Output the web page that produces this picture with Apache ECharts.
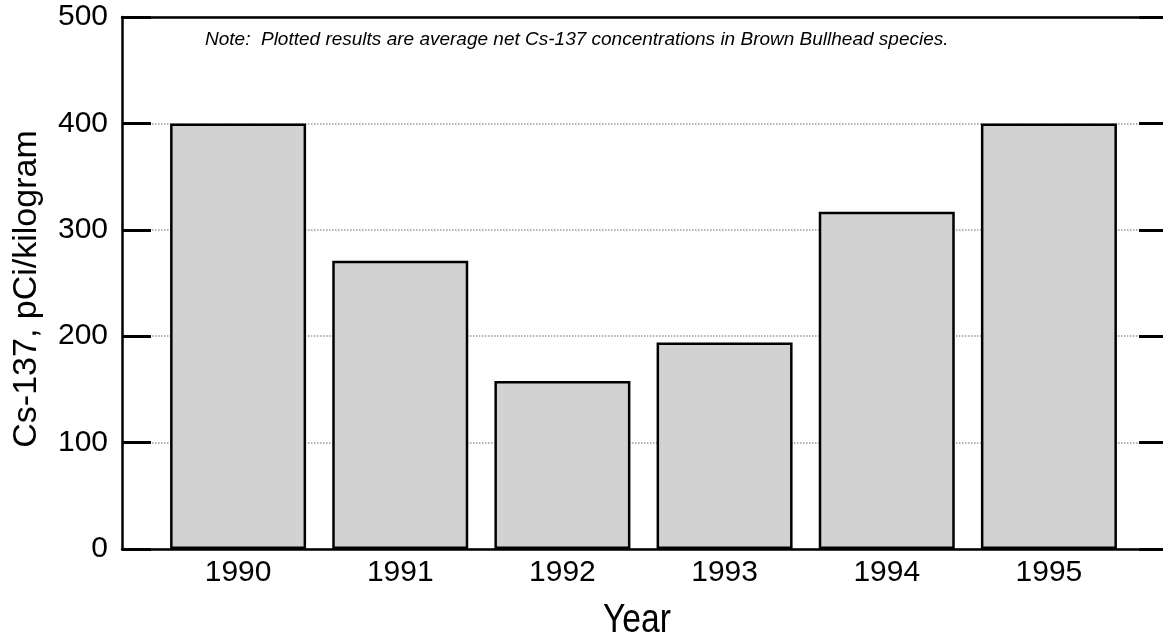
<!DOCTYPE html>
<html>
<head>
<meta charset="utf-8">
<title>Cs-137 in Brown Bullhead</title>
<script src="https://cdn.jsdelivr.net/npm/echarts@6/dist/echarts.min.js"></script>
<style>
  html, body { margin: 0; padding: 0; background: #fff; }
  #chart { width: 1163px; height: 644px; }
</style>
</head>
<body>
<div id="chart"></div>
<script>
// data
const years = ['1990', '1991', '1992', '1993', '1994', '1995']
const cs137 = [400, 271, 158, 194, 317, 400]
const yTicks = [0, 100, 200, 300, 400, 500]

const font = "'Liberation Sans', Arial, sans-serif"

const chart = echarts.init(document.getElementById('chart'))

const option = {
  animation: false,
  backgroundColor: '#fff',
  grid: [
    // frame grid (axes, ticks, gridlines)
    { left: 122, right: 0, top: 17, bottom: 95 },
    // bar grid, a bit narrower so the bars sit where they do in the picture
    { left: 157, right: 33, top: 17, bottom: 95 }
  ],
  xAxis: [
    {
      gridIndex: 0, type: 'value', min: 0, max: 1, position: 'bottom',
      axisLine: { show: true, onZero: false, lineStyle: { color: '#000', width: 2.5 } },
      axisTick: { show: false }, axisLabel: { show: false }, splitLine: { show: false }
    },
    {
      gridIndex: 0, type: 'value', min: 0, max: 1, position: 'top',
      axisLine: { show: true, onZero: false, lineStyle: { color: '#000', width: 2.5 } },
      axisTick: { show: false }, axisLabel: { show: false }, splitLine: { show: false }
    },
    {
      gridIndex: 1, type: 'category', data: years,
      axisLine: { show: false }, axisTick: { show: false },
      axisLabel: { color: '#000', fontSize: 30, fontFamily: font, margin: 9 }
    }
  ],
  yAxis: [
    {
      gridIndex: 0, type: 'value', position: 'left',
      min: yTicks[0], max: yTicks[yTicks.length - 1], interval: 100,
      axisLine: { show: true, onZero: false, lineStyle: { color: '#000', width: 2.5 } },
      axisTick: { show: true, inside: true, length: 29, lineStyle: { color: '#000', width: 3 } },
      axisLabel: { color: '#000', fontSize: 30, fontFamily: font, margin: 14 },
      splitLine: { show: true, lineStyle: { color: '#9a9a9a', type: 'dotted', width: 1.5 } }
    },
    {
      // right side: only short inward ticks
      gridIndex: 0, type: 'value', position: 'right',
      min: yTicks[0], max: yTicks[yTicks.length - 1], interval: 100,
      axisLine: { show: false, onZero: false },
      axisTick: { show: true, inside: true, length: 24, lineStyle: { color: '#000', width: 3 } },
      axisLabel: { show: false }, splitLine: { show: false }
    },
    {
      gridIndex: 1, type: 'value', show: false,
      min: yTicks[0], max: yTicks[yTicks.length - 1]
    }
  ],
  series: [
    {
      type: 'bar',
      xAxisIndex: 2,
      yAxisIndex: 2,
      data: cs137,
      barWidth: 136,
      itemStyle: { color: '#d2d2d2', borderColor: '#000', borderWidth: 2.5 },
      z: 3
    }
  ],
  graphic: [
    {
      type: 'text', left: 205, top: 30, z: 10,
      style: {
        text: 'Note:  Plotted results are average net Cs-137 concentrations in Brown Bullhead species.',
        fill: '#000', fontSize: 19, fontStyle: 'italic', fontFamily: font
      }
    },
    {
      type: 'text', x: 27, y: 289, rotation: Math.PI / 2, z: 10,
      style: {
        text: 'Cs-137, pCi/kilogram', fill: '#000', fontSize: 34, fontFamily: font,
        align: 'center', verticalAlign: 'middle'
      }
    },
    {
      type: 'text', x: 637, y: 621, scaleX: 0.82, z: 10,
      style: {
        text: 'Year', fill: '#000', fontSize: 41, fontFamily: font,
        align: 'center', verticalAlign: 'middle'
      }
    }
  ]
}

chart.setOption(option)
</script>
</body>
</html>
